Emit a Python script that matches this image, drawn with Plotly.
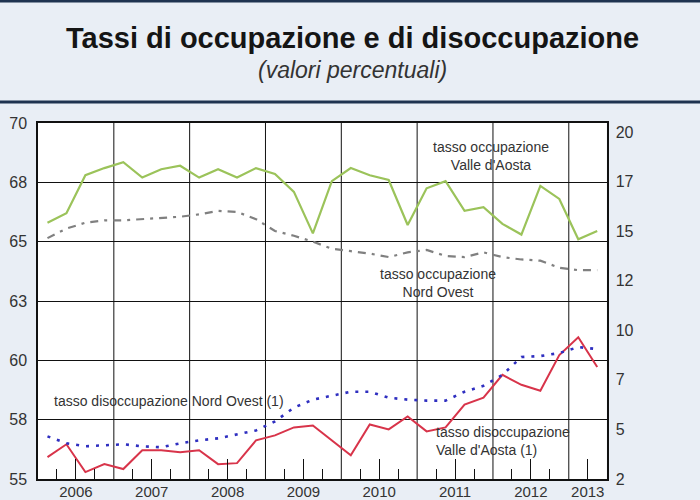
import plotly.graph_objects as go
from plotly.subplots import make_subplots

# quarterly data, 2006 Q1 - 2013 Q2
years = [2006, 2007, 2008, 2009, 2010, 2011, 2012, 2013]
quarters = [f"{y} T{q}" for y in years for q in range(1, 5)][:30]

occ_vda = [65.8, 66.2, 67.8, 68.1, 68.35, 67.7, 68.05, 68.2, 67.7, 68.05,
           67.7, 68.1, 67.85, 67.1, 65.35, 67.55, 68.1, 67.8, 67.6, 65.7,
           67.25, 67.55, 66.3, 66.45, 65.75, 65.3, 67.35, 66.8, 65.1, 65.45]
occ_no = [65.15, 65.55, 65.8, 65.9, 65.9, 65.95, 66.0, 66.05, 66.15, 66.3,
          66.25, 65.95, 65.45, 65.25, 65.0, 64.7, 64.6, 64.5, 64.35, 64.55,
          64.65, 64.4, 64.35, 64.55, 64.35, 64.25, 64.2, 63.9, 63.8, 63.8]
dis_vda = [3.6, 4.25, 2.85, 3.25, 3.0, 3.95, 3.95, 3.85, 3.95, 3.25,
           3.3, 4.45, 4.7, 5.1, 5.2, 4.45, 3.7, 5.25, 5.0, 5.65,
           4.9, 5.1, 6.25, 6.6, 7.75, 7.25, 6.95, 8.75, 9.65, 8.15]
dis_no = [4.65, 4.3, 4.15, 4.2, 4.25, 4.15, 4.1, 4.3, 4.45, 4.55,
          4.75, 4.95, 5.4, 6.1, 6.5, 6.7, 6.9, 6.9, 6.6, 6.5,
          6.45, 6.45, 6.9, 7.2, 7.75, 8.65, 8.7, 8.85, 9.15, 9.05]

left_ticks = [55, 57.5, 60, 62.5, 65, 67.5, 70]
left_labels = ["55", "58", "60", "63", "65", "68", "70"]
right_ticks = [2.5, 5, 7.5, 10, 12.5, 15, 17.5, 20]
right_labels = ["2", "5", "7", "10", "12", "15", "17", "20"]

x = list(range(len(quarters)))
n = len(x)
# year label positions: middle of the year (2013 only has two quarters)
year_pos = [4 * k + 1.5 if 4 * k + 3 < n else 4 * k + (n - 4 * k - 1) / 2 for k in range(len(years))]
year_edges = [4 * k - 0.5 for k in range(1, len(years))]
minor_pos = [i + 0.5 for i in range(-1, n) if (i + 0.5) not in year_pos and (i + 0.5) not in year_edges]

fig = make_subplots(specs=[[{"secondary_y": True}]])

fig.add_trace(go.Scatter(x=x, y=occ_vda, mode="lines", line=dict(color="#9bc35a", width=2.2)),
              secondary_y=False)
fig.add_trace(go.Scatter(x=x, y=occ_no, mode="lines",
                         line=dict(color="#808080", width=2.2, dash="8px,6px,3px,6px")),
              secondary_y=False)
fig.add_trace(go.Scatter(x=x, y=dis_vda, mode="lines", line=dict(color="#d8344a", width=2)),
              secondary_y=True)
fig.add_trace(go.Scatter(x=x, y=dis_no, mode="lines",
                         line=dict(color="#2f2fc0", width=2.6, dash="3px,7px")),
              secondary_y=True)

# vertical gridlines at the year boundaries
for e in year_edges:
    fig.add_shape(type="line", xref="x", yref="paper", x0=e, x1=e, y0=0, y1=1,
                  line=dict(color="#111111", width=1), layer="below")

# dark rules of the header
for yy in [1.343, 1.059]:
    fig.add_shape(type="line", xref="paper", yref="paper", x0=-0.07, x1=1.1, y0=yy, y1=yy,
                  line=dict(color="#1f3350", width=3))

tf = "Liberation Sans, Arial, sans-serif"
fig.add_annotation(text="<b>Tassi di occupazione e di disoccupazione</b>", xref="paper", yref="paper",
                   x=0.52, y=1.24, yanchor="middle", showarrow=False,
                   font=dict(size=29, color="#151515", family=tf))
fig.add_annotation(text="<i>(valori percentuali)</i>", xref="paper", yref="paper",
                   x=0.52, y=1.148, yanchor="middle", showarrow=False,
                   font=dict(size=23, color="#333333", family=tf))

af = dict(size=14, color="#333333", family=tf)
fig.add_annotation(text="tasso occupazione<br>Valle d'Aosta", x=23.4, y=68.6, xref="x", yref="y",
                   showarrow=False, font=af)
fig.add_annotation(text="tasso occupazione<br>Nord Ovest", x=20.6, y=63.25, xref="x", yref="y",
                   showarrow=False, font=af)
fig.add_annotation(text="tasso disoccupazione Nord Ovest (1)", x=6.4, y=58.3, xref="x", yref="y",
                   showarrow=False, font=af)
fig.add_annotation(text="tasso disoccupazione<br>Valle d'Aosta (1)", x=20.4, y=56.6, xref="x", yref="y",
                   showarrow=False, font=af, xanchor="left", align="left")

fig.update_xaxes(range=[-0.5, 29.5], tickmode="array", tickvals=year_pos, ticktext=[str(y) for y in years],
                 ticks="inside", ticklen=20, tickwidth=1, tickcolor="#111111",
                 minor=dict(tickmode="array", tickvals=minor_pos, ticks="inside", ticklen=10,
                            tickcolor="#111111", tickwidth=1, showgrid=False),
                 showgrid=False, showline=True, linecolor="#111111", linewidth=1.5, mirror=True,
                 zeroline=False, automargin=False, ticklabelstandoff=-2,
                 tickfont=dict(size=15, color="#333333", family=tf))
fig.update_yaxes(range=[55, 70], tickmode="array", tickvals=left_ticks, ticktext=left_labels,
                 showgrid=True, gridcolor="#111111", gridwidth=1, showline=True, linecolor="#111111",
                 linewidth=1.5, mirror=True, zeroline=False, ticks="", ticklabelstandoff=6,
                 automargin=False, tickfont=dict(size=16, color="#333333", family=tf), secondary_y=False)
fig.update_yaxes(range=[2.5, 20.45], tickmode="array", tickvals=right_ticks, ticktext=right_labels,
                 showgrid=False, zeroline=False, ticks="", ticklabelstandoff=8, automargin=False,
                 tickfont=dict(size=16, color="#333333", family=tf), secondary_y=True)

fig.update_layout(width=700, height=500, showlegend=False,
                  paper_bgcolor="#e9eef5", plot_bgcolor="#ffffff",
                  margin=dict(l=38, r=57, t=123, b=21, autoexpand=False))

fig.write_html("out.html", config={"displayModeBar": False},
               post_script="document.body.style.margin='0';")
